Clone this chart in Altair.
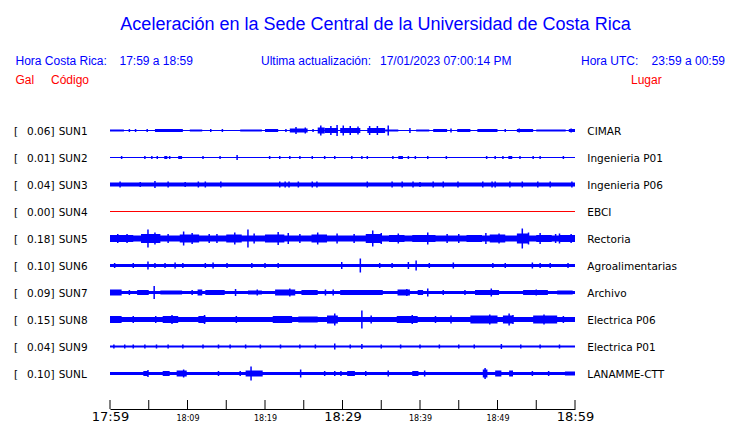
import json
import altair as alt
import pandas as pd

# ---------------- data ----------------
codes = ["SUN1", "SUN2", "SUN3", "SUN4", "SUN5", "SUN6", "SUN7", "SUN8", "SUN9", "SUNL"]
gal = [0.06, 0.01, 0.04, 0.00, 0.18, 0.10, 0.09, 0.15, 0.04, 0.10]
places = ["CIMAR", "Ingenieria P01", "Ingenieria P06", "EBCI", "Rectoria",
          "Agroalimentarias", "Archivo", "Electrica P06", "Electrica P01", "LANAMME-CTT"]

# continuous trace half-width (amplitude units) for each station
base_half = [0.5, 0.5, 2.0, 0.5, 3.0, 1.5, 1.5, 2.5, 1.0, 1.5]

# bursts: [start minute, end minute, half amplitude]
zones = {
    "SUN1": [[0, 1.8, 1.0], [5.8, 9.4, 1.5], [10.3, 11.9, 1.0], [16.8, 19.6, 1.0], [20, 21.7, 1.5],
             [23.2, 25.5, 2.0], [26.8, 27.7, 3.0], [27.7, 29.4, 2.5], [29.7, 32.3, 2.5], [33.2, 35.5, 2.5],
             [35.5, 37.2, 1.0], [39.5, 41.2, 1.0], [41.7, 43.5, 1.5], [44.8, 46.5, 1.5],
             [47.4, 50, 1.5], [52.5, 54.6, 1.5], [55, 58.8, 1.0], [59.2, 60, 1.5]],
    "SUN2": [[7.0, 7.4, 1.5], [8.8, 9.3, 1.5], [37.2, 37.8, 1.5], [51.4, 51.9, 1.5]],
    "SUN3": [],
    "SUN4": [],
    "SUN5": [[0, 3, 3.5], [4, 6.5, 4.5], [9, 11.5, 4.0], [15, 17, 4.0],
             [20, 22.5, 4.0], [26, 28, 4.0], [33, 35, 4.5], [36, 38, 3.5], [39, 42, 3.5],
             [46, 48, 3.5], [49, 51, 4.0], [52.5, 54, 5.0], [55, 57, 3.5], [58, 60, 3.5]],
    "SUN6": [],
    "SUN7": [[0, 1.5, 3.0], [3.5, 5, 2.5], [6.5, 9.3, 2.0], [11.3, 11.9, 3.0], [12.3, 14.8, 2.5],
             [17.8, 19.6, 2.0], [21.3, 23.9, 3.0], [24.7, 26.8, 2.5], [29.7, 35.2, 2.5],
             [37.1, 38.7, 3.0], [39.7, 40.4, 2.5], [47.1, 50.2, 2.5], [53.3, 56.5, 2.5], [57.7, 59.7, 2.0]],
    "SUN8": [[0, 1.5, 3.5], [6.8, 8.8, 3.5], [11.4, 12.3, 3.5], [21, 23.5, 3.5], [24.3, 26.8, 3.0],
             [28, 29.4, 4.0], [37, 39.7, 3.5], [46.5, 50, 4.0], [50.7, 52, 4.0], [54.6, 57.7, 4.0]],
    "SUN9": [],
    "SUNL": [[4.3, 4.9, 2.5], [6.8, 7.7, 2.5], [8.6, 9.9, 3.0], [17.5, 19.7, 3.0],
             [30.6, 31.6, 2.5], [39.0, 39.8, 2.5], [48.1, 48.7, 4.0], [49.7, 50.5, 3.0],
             [51.5, 52, 3.0], [58.7, 60, 2.0]],
}

# single peaks: [minute, half amplitude]
spikes = {
    "SUN1": [[2.5, 1.5], [3.3, 1.5], [4.8, 1.5], [13.0, 1.5], [14.5, 1.5], [22.7, 1.5], [24.0, 3.5],
             [25.2, 3.0], [26.2, 1.5], [27.2, 5.0], [28.5, 4.5], [29.3, 5.5], [30.1, 5.0], [31.0, 4.5],
             [32.0, 4.0], [33.5, 4.5], [34.5, 4.5], [35.9, 5.0], [38.7, 2.5], [44.0, 2.0], [51.0, 1.5],
             [52.8, 2.0], [59.5, 2.0]],
    "SUN2": [[1.5, 1.5], [4.5, 1.5], [5.4, 1.5], [6.1, 1.5], [7.7, 1.5], [9.0, 1.5], [12.0, 1.5],
             [14.2, 1.5], [16.4, 2.5], [20.6, 1.5], [21.9, 1.5], [23.2, 1.5], [24.5, 1.5], [26.1, 1.5],
             [27.7, 1.5], [29.0, 1.5], [31.2, 1.5], [32.5, 1.5], [33.2, 1.5], [36.5, 1.5], [38.5, 1.5],
             [39.4, 1.5], [41.0, 1.5], [43.4, 1.5], [48.6, 1.5], [49.7, 1.5], [50.7, 1.5], [52.9, 1.5],
             [54.6, 1.5], [55.5, 1.5], [58.5, 1.5]],
    "SUN3": [[1.3, 3.0], [3.9, 2.5], [5.8, 3.5], [7.5, 3.0], [9.7, 2.5], [11.4, 3.0], [12.3, 3.0],
             [14.3, 3.0], [21.9, 3.0], [22.6, 3.0], [23.1, 3.0], [24.3, 3.0], [26.1, 3.0], [26.7, 3.0],
             [33.2, 3.0], [36.4, 3.0], [37.7, 3.0], [39.1, 3.0], [40.0, 2.5], [41.7, 3.0], [43.0, 3.0],
             [44.9, 3.0], [48.1, 3.0], [49.3, 3.0], [49.7, 3.0], [51.6, 3.0], [53.2, 3.0], [55.2, 3.0],
             [56.8, 3.0], [59.6, 3.0]],
    "SUN4": [],
    "SUN5": [[1.0, 4.5], [2.2, 4.5], [4.9, 9.0], [5.8, 6.0], [7.5, 4.5], [9.5, 7.0], [10.6, 5.5],
             [12.8, 4.5], [13.8, 4.5], [16.1, 6.0], [17.8, 9.0], [18.6, 5.0], [21.7, 6.5], [23.0, 5.5],
             [24.5, 4.5], [26.8, 6.0], [29.3, 5.0], [31.5, 4.5], [33.9, 8.0], [35.0, 5.5], [37.2, 5.0],
             [41.0, 6.0], [43.5, 4.5], [45.0, 4.5], [48.5, 5.5], [50.2, 5.0], [53.2, 10.0], [54.0, 6.0],
             [55.5, 5.5], [57.5, 4.5], [58.0, 5.0], [59.5, 4.5]],
    "SUN6": [[0.6, 2.5], [3.0, 2.5], [4.9, 4.0], [5.8, 2.5], [7.1, 2.5], [8.4, 3.0], [9.4, 2.5],
             [12.3, 2.5], [13.3, 3.0], [15.1, 2.5], [18.3, 2.5], [20.0, 2.5], [21.7, 2.5], [29.9, 3.5],
             [32.3, 7.0], [34.8, 2.5], [36.4, 2.5], [38.5, 3.5], [39.5, 5.0], [41.2, 2.5], [44.3, 3.0],
             [49.4, 2.5], [51.0, 2.5], [54.5, 3.0], [55.5, 2.5], [56.8, 2.5], [59.1, 2.5]],
    "SUN7": [[2.5, 2.5], [5.7, 6.5], [10.6, 2.5], [16.2, 3.5], [19.0, 3.0], [23.2, 4.0], [27.8, 3.0],
             [28.8, 3.0], [38.3, 3.5], [41.0, 4.0], [43.0, 2.5], [45.8, 2.5], [49.2, 4.0], [55.0, 3.0]],
    "SUN8": [[3.0, 3.5], [5.9, 3.5], [8.0, 4.5], [12.2, 4.5], [16.3, 3.5], [29.0, 6.0], [32.5, 9.0],
             [33.7, 4.0], [39.0, 4.5], [42.0, 3.5], [44.0, 4.0], [49.0, 5.0], [51.5, 6.0], [52.0, 4.5],
             [56.0, 5.0], [58.5, 3.5]],
    "SUN9": [[0.5, 2.0], [1.9, 2.0], [3.0, 2.0], [4.5, 2.0], [6.0, 2.0], [7.5, 2.0], [9.4, 2.0],
             [12.0, 2.0], [14.0, 2.0], [15.5, 2.0], [17.5, 2.0], [19.4, 2.0], [22.0, 2.0], [24.5, 2.0],
             [26.5, 2.0], [29.0, 3.0], [31.0, 2.0], [32.5, 2.5], [35.0, 2.0], [37.5, 2.0], [40.0, 2.0],
             [42.5, 2.0], [45.0, 2.0], [47.0, 2.0], [50.5, 2.5], [53.0, 2.0], [55.5, 2.0], [58.0, 2.0]],
    "SUNL": [[4.9, 3.5], [9.5, 4.0], [14.0, 2.5], [16.8, 2.5], [18.2, 7.0], [24.6, 4.0], [27.7, 2.5],
             [29.0, 2.5], [29.8, 2.5], [33.0, 2.5], [35.9, 3.0], [40.6, 3.0], [48.4, 5.5], [54.5, 2.5],
             [56.6, 2.5]],
}

tick_minutes = [0, 5, 10, 15, 20, 25, 30, 35, 40, 45, 50, 55, 60]
tick_labels = ["17:59", "", "18:09", "", "18:19", "", "18:29", "", "18:39", "", "18:49", "", "18:59"]

title_text = "Aceleración en la Sede Central de la Universidad de Costa Rica"
hora_cr = ["Hora Costa Rica:", "17:59 a 18:59"]
actualizacion = ["Ultima actualización:", "17/01/2023 07:00:14 PM"]
hora_utc = ["Hora UTC:", "23:59 a 00:59"]
col_heads = ["Gal", "Código", "Lugar"]

# ---------------- tables ----------------
ROW = 27  # spacing between traces in amplitude units
band_rows, spike_rows, label_rows = [], [], []
for i, c in enumerate(codes):
    mid = i * ROW
    band_rows.append(dict(code=c, t0=0, t1=60, y0=mid - base_half[i], y1=mid + base_half[i]))
    for t0, t1, h in zones[c]:
        band_rows.append(dict(code=c, t0=t0, t1=t1, y0=mid - h, y1=mid + h))
    for t, h in spikes[c]:
        spike_rows.append(dict(code=c, t=t, y0=mid - h, y1=mid + h))
    label_rows.append(dict(code=c, y=mid, galtxt=f"{gal[i]:.2f}]", place=places[i]))

bands = pd.DataFrame(band_rows)
spk = pd.DataFrame(spike_rows)
labs = pd.DataFrame(label_rows)
ticks = pd.DataFrame({"t": tick_minutes})
one = pd.DataFrame({"k": [0]})

BLUE = "#0000ff"
RED = "#ff0000"

xscale = alt.Scale(domain=[0, 60], range=[102, 567])
yscale = alt.Scale(domain=[0, 9 * ROW], range=[122.5, 365.5])
trace_color = alt.condition(alt.datum.code == "SUN4", alt.value(RED), alt.value(BLUE))

axis_x = alt.Axis(
    values=tick_minutes,
    labelExpr=f"{json.dumps(tick_labels)}[round(datum.value / 5)]",
    ticks=False, tickSize=0, grid=False, domain=True, domainColor="black", domainWidth=1,
    labelFont="DejaVu Sans", labelColor="black",
    labelFontSize={"condition": {"test": "datum.value % 30 === 0", "value": 13}, "value": 8},
    labelBaseline="alphabetic", labelPadding=11, labelOverlap=False, labelFlush=False,
    labelBound=False, title=None,
)

band_layer = alt.Chart(bands).mark_rect().encode(
    x=alt.X("t0:Q", scale=xscale, axis=axis_x), x2="t1:Q",
    y=alt.Y("y0:Q", scale=yscale, axis=None), y2="y1:Q",
    color=trace_color,
)
spike_layer = alt.Chart(spk).mark_rule(strokeWidth=1.5).encode(
    x=alt.X("t:Q", scale=xscale, axis=axis_x),
    y=alt.Y("y0:Q", scale=yscale, axis=None), y2="y1:Q",
    color=trace_color,
)
tick_layer = alt.Chart(ticks).mark_rule(color="black", strokeWidth=1).encode(
    x=alt.X("t:Q", scale=xscale, axis=axis_x),
    y=alt.value(392), y2=alt.value(401),
)

lab_font = dict(font="DejaVu Sans", fontSize=10.5, color="black", baseline="alphabetic", dy=4.5)
bracket_layer = alt.Chart(labs).mark_text(align="left", **lab_font).encode(
    x=alt.value(6), y=alt.Y("y:Q", scale=yscale, axis=None), text=alt.value("["))
gal_layer = alt.Chart(labs).mark_text(align="right", **lab_font).encode(
    x=alt.value(46.5), y=alt.Y("y:Q", scale=yscale, axis=None), text="galtxt:N")
code_layer = alt.Chart(labs).mark_text(align="left", **lab_font).encode(
    x=alt.value(50.7), y=alt.Y("y:Q", scale=yscale, axis=None), text="code:N")
place_layer = alt.Chart(labs).mark_text(align="left", **lab_font).encode(
    x=alt.value(579.3), y=alt.Y("y:Q", scale=yscale, axis=None), text="place:N")


def head(text, x, y, size=12, color=BLUE, align="left"):
    return alt.Chart(one).mark_text(
        font="Liberation Sans", fontSize=size, color=color, align=align, baseline="alphabetic"
    ).encode(x=alt.value(x), y=alt.value(y), text=alt.value(text))


headers = [
    head(title_text, 367.5, 22, size=18, align="center"),
    head(hora_cr[0], 7.5, 57), head(hora_cr[1], 111.5, 57),
    head(actualizacion[0], 253, 57), head(actualizacion[1], 372, 57),
    head(hora_utc[0], 573, 57), head(hora_utc[1], 717, 57, align="right"),
    head(col_heads[0], 7.5, 76, color=RED), head(col_heads[1], 43, 76, color=RED),
    head(col_heads[2], 623, 76, color=RED),
]

chart = alt.layer(
    band_layer, spike_layer, tick_layer,
    bracket_layer, gal_layer, code_layer, place_layer, *headers,
).properties(
    width=724, height=401,
    autosize=alt.AutoSizeParams(type="none"),
    padding={"left": 0, "top": 0, "right": 0, "bottom": 16},
    background="white",
).configure_view(strokeWidth=0)

chart.save("out.html", embed_options={"renderer": "svg", "actions": False})
